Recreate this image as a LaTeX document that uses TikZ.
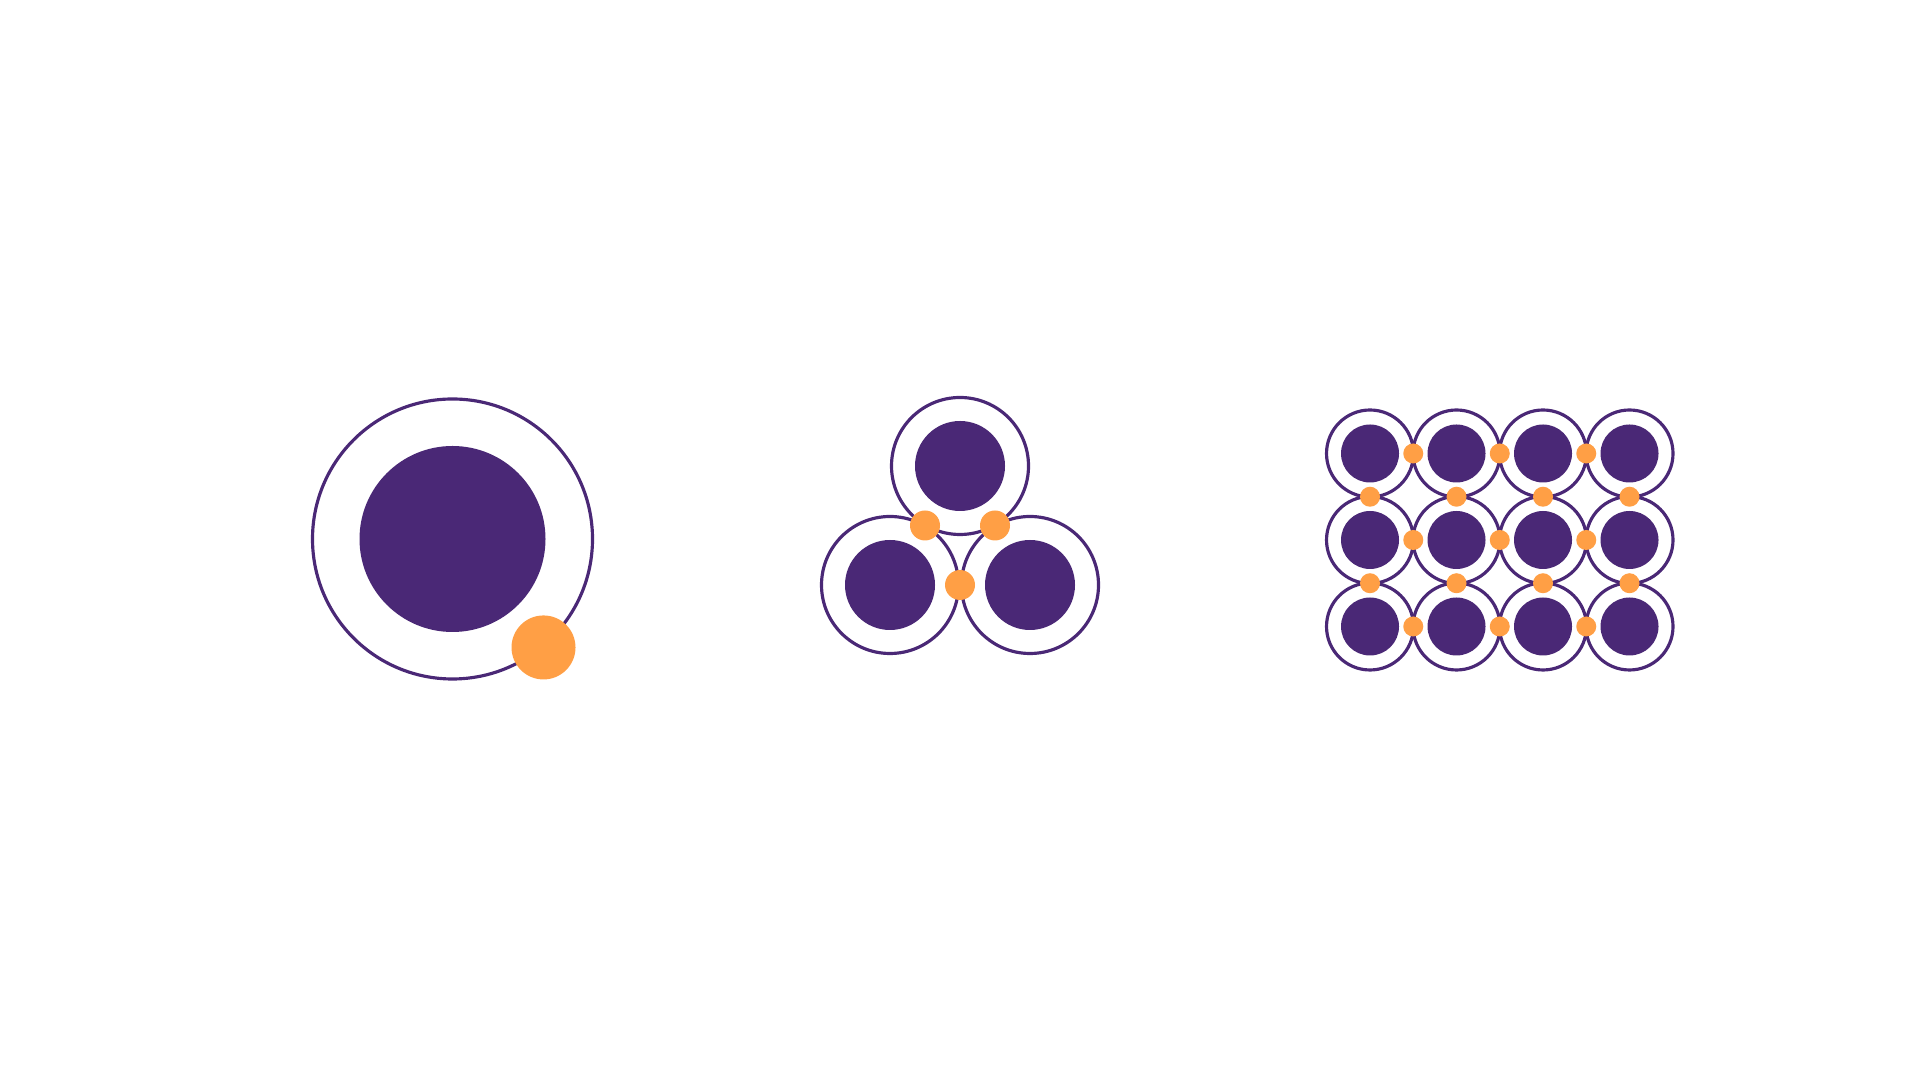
\documentclass[tikz,border=0pt]{standalone}
\usepackage{xcolor}
\usetikzlibrary{positioning, calc}

\definecolor{corepurple}{RGB}{74,40,118}
\definecolor{dotorange}{RGB}{255,159,69}

\begin{document}
\begin{tikzpicture}[
  shell/.style={circle, draw=corepurple, line width=0.9pt, fill=white, inner sep=0pt},
  core/.style={circle, fill=corepurple, inner sep=0pt},
  dot/.style={circle, fill=dotorange, inner sep=0pt}
]
  \useasboundingbox (0,0) rectangle (19.2,10.8);

  % single atom
  \node[shell, minimum size=2.80cm] (s1) at (4.525,5.41) {};
  \node[core, minimum size=1.86cm] (c1) at (s1.center) {};
  \node[dot, minimum size=0.64cm] (d1) at (s1.-50) {};

  % three atoms
  \node[shell, minimum size=1.37cm] (tA) at (9.60,6.14) {};
  \node[shell, minimum size=1.37cm] (tB) at (8.90,4.95) {};
  \node[shell, minimum size=1.37cm] (tC) at (10.30,4.95) {};
  \foreach \n in {tA,tB,tC}
    \node[core, minimum size=0.90cm] (k\n) at (\n.center) {};
  \node[dot, minimum size=0.30cm] (dAB) at ($(tA.center)!0.5!(tB.center)$) {};
  \node[dot, minimum size=0.30cm] (dAC) at ($(tA.center)!0.5!(tC.center)$) {};
  \node[dot, minimum size=0.30cm] (dBC) at ($(tB.center)!0.5!(tC.center)$) {};

  % lattice
  \foreach \c in {0,...,3}
    \foreach \r in {0,...,2} {
      \node[shell, minimum size=0.87cm] (g-\c-\r) at ({13.70+0.865*\c},{6.265-0.865*\r}) {};
      \node[core, minimum size=0.58cm] (h-\c-\r) at (g-\c-\r.center) {};
    }
  \foreach \c/\cn in {0/1,1/2,2/3}
    \foreach \r in {0,...,2}
      \node[dot, minimum size=0.20cm] (x-\c-\r) at ($(g-\c-\r.center)!0.5!(g-\cn-\r.center)$) {};
  \foreach \c in {0,...,3}
    \foreach \r/\rn in {0/1,1/2}
      \node[dot, minimum size=0.20cm] (y-\c-\r) at ($(g-\c-\r.center)!0.5!(g-\c-\rn.center)$) {};
\end{tikzpicture}
\end{document}
